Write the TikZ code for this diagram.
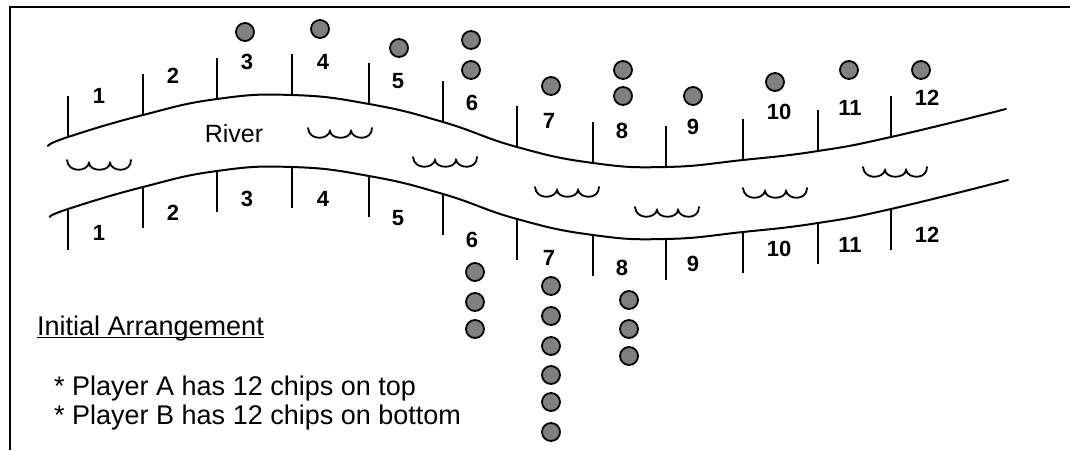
\documentclass[tikz,border=0pt]{standalone}
\usepackage{fontspec}
\setmainfont{Liberation Sans}
\definecolor{chipgray}{RGB}{128,128,128}
\tikzset{
  pics/ripple/.style={code={
    \draw[line width=1.8pt, line cap=round]
      (0,0) .. controls (1,13) and (20,12) .. (22,3)
            .. controls (23,12) and (42,12) .. (43,3)
            .. controls (45,12) and (64,13) .. (64,0);
  }}
}
\begin{document}
\begin{tikzpicture}[x=1pt,y=-1pt,
  frame/.style={line width=2.2pt},
  bank/.style={line width=2pt, line cap=round},
  tickmark/.style={line width=1.8pt},
  chip/.style={circle, draw=black, fill=chipgray, line width=1.8pt,
               minimum size=18pt, inner sep=0pt},
  numlbl/.style={font=\fontsize{22}{22}\selectfont\bfseries, inner sep=0pt},
  bodytext/.style={font=\fontsize{27}{29}\selectfont, inner sep=0pt}]
\useasboundingbox (0,0) rectangle (1070,450);

% outer frame (top and left edges)
\draw[frame] (10,450) -- (10,7) -- (1070,7);

% points on the banks where the board lines meet them
\foreach \i/\x/\y in {1/68/137, 2/143/115, 3/217/99, 4/292/95, 5/369/104,
                      6/443/122, 7/517/147, 8/593/163, 9/666/167, 10/743/160,
                      11/818/151, 12/891/137} {
  \coordinate (u\i) at (\x,\y);
  \coordinate (l\i) at (\x,\y+72);
}
\coordinate (ustart) at (48,146);
\coordinate (uend) at (1006,109);
\coordinate (lstart) at (50,217);
\coordinate (lend) at (1008,180);

% river banks
\draw[bank] plot[smooth, tension=0.8] coordinates {(ustart) (u1) (u2) (u3) (u4) (u5)
  (u6) (u7) (u8) (u9) (u10) (u11) (u12) (uend)};
\draw[bank] plot[smooth, tension=0.8] coordinates {(lstart) (l1) (l2) (l3) (l4) (l5)
  (l6) (l7) (l8) (l9) (l10) (l11) (l12) (lend)};

% division lines on both banks
\foreach \i in {1,...,12} {
  \draw[tickmark] (u\i) -- ++(0,-41);
  \draw[tickmark] (l\i) -- ++(0,41);
}

% point numbers
\foreach \n/\x/\y in {1/99/96, 2/173/76, 3/247/62, 4/323/62, 5/398/81, 6/472/103,
                      7/549/121, 8/622/131, 9/693/127, 10/779/112, 11/850/108,
                      12/927/98} {
  \node[numlbl] (nt\n) at (\x,\y) {\n};
  \node[numlbl] (nb\n) at (\x,\y+137) {\n};
}

% water ripples
\pic at (67,160) {ripple};
\pic at (308,128) {ripple};
\pic at (413,157) {ripple};
\pic at (535,187) {ripple};
\pic at (635,207) {ripple};
\pic at (743,188) {ripple};
\pic at (863,167) {ripple};

\node[font=\fontsize{25}{25}\selectfont, inner sep=0pt] (river) at (234,134) {River};

% player A chips (top)
\foreach \k/\x/\y in {1/245/32, 2/320/29, 3/399/48, 4/471/40, 5/471/70, 6/551/86,
                      7/623/70, 8/623/96, 9/693/96, 10/775/82, 11/849/70, 12/921/70} {
  \node[chip] (ca\k) at (\x,\y) {};
}
% player B chips (bottom)
\foreach \k/\x/\y in {1/475/272, 2/475/302, 3/475/329, 4/551/286, 5/551/316,
                      6/551/346, 7/551/375, 8/551/402, 9/551/432, 10/629/300,
                      11/629/329, 12/629/356} {
  \node[chip] (cb\k) at (\x,\y) {};
}

% legend
\node[bodytext, anchor=base west] (title) at (37,335) {Initial Arrangement};
\draw[line width=1.5pt] ([yshift=-2.5pt]title.base west) -- ([yshift=-2.5pt]title.base east);
\node[bodytext, anchor=base west] (pa) at (54,395) {* Player A has 12 chips on top};
\node[bodytext, anchor=base west] (pb) at (54,424) {* Player B has 12 chips on bottom};
\end{tikzpicture}
\end{document}
